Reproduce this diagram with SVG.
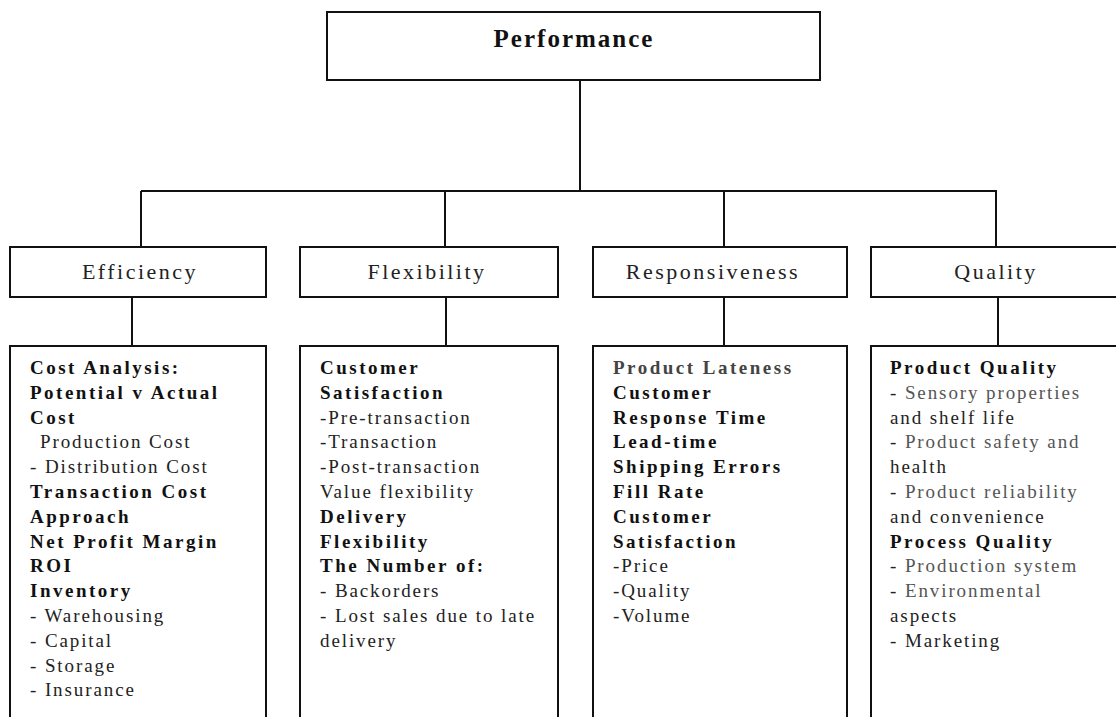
<svg xmlns="http://www.w3.org/2000/svg" width="1116" height="717" viewBox="0 0 1116 717">
<style>
.box{fill:#fff;stroke:#111;stroke-width:2}
.conn{fill:none;stroke:#111;stroke-width:2}
.title{font-family:"Liberation Serif",serif;font-weight:bold;font-size:25px;letter-spacing:2px;text-anchor:middle;fill:#111}
.lbl{font-family:"Liberation Serif",serif;font-size:22px;letter-spacing:2.5px;text-anchor:middle;fill:#222}
.dt{font-family:"Liberation Serif",serif;font-size:19px;letter-spacing:1.9px;fill:#222}
.b{font-weight:bold;fill:#111;letter-spacing:2.5px}
.g{fill:#555}
.gb{fill:#444}
</style>
<rect width="1116" height="717" fill="#fff"/>
<g id="connectors">
<line class="conn" x1="580" y1="80" x2="580" y2="191"/>
<line class="conn" x1="141" y1="191" x2="997" y2="191"/>
<line class="conn" x1="141" y1="191" x2="141" y2="247"/>
<line class="conn" x1="445" y1="191" x2="445" y2="247"/>
<line class="conn" x1="724" y1="191" x2="724" y2="247"/>
<line class="conn" x1="996" y1="191" x2="996" y2="247"/>
<line class="conn" x1="132" y1="297" x2="132" y2="346"/>
<line class="conn" x1="446" y1="297" x2="446" y2="346"/>
<line class="conn" x1="724" y1="297" x2="724" y2="346"/>
<line class="conn" x1="998" y1="297" x2="998" y2="346"/>
</g>
<g id="performance">
<rect class="box" x="327" y="12" width="493" height="68"/>
<text class="title" x="574" y="47">Performance</text>
</g>
<g id="efficiency">
<rect class="box" x="10" y="247" width="256" height="50"/>
<text class="lbl" x="140" y="279">Efficiency</text>
</g>
<g id="flexibility">
<rect class="box" x="300" y="247" width="258" height="50"/>
<text class="lbl" x="427" y="279">Flexibility</text>
</g>
<g id="responsiveness">
<rect class="box" x="593" y="247" width="254" height="50"/>
<text class="lbl" x="713" y="279">Responsiveness</text>
</g>
<g id="quality">
<rect class="box" x="871" y="247" width="260" height="50"/>
<text class="lbl" x="996" y="279">Quality</text>
</g>
<g id="efficiency-details">
<rect class="box" x="10" y="346" width="256" height="380"/>
<text class="dt">
<tspan x="30" y="374" class="b">Cost Analysis:</tspan>
<tspan x="30" y="398.8" class="b">Potential v Actual</tspan>
<tspan x="30" y="423.6" class="b">Cost</tspan>
<tspan x="40" y="448.4">Production Cost</tspan>
<tspan x="30" y="473.2">- Distribution Cost</tspan>
<tspan x="30" y="498" class="b">Transaction Cost</tspan>
<tspan x="30" y="522.8" class="b">Approach</tspan>
<tspan x="30" y="547.6" class="b">Net Profit Margin</tspan>
<tspan x="30" y="572.4" class="b">ROI</tspan>
<tspan x="30" y="597.2" class="b">Inventory</tspan>
<tspan x="30" y="622">- Warehousing</tspan>
<tspan x="30" y="646.8">- Capital</tspan>
<tspan x="30" y="671.6">- Storage</tspan>
<tspan x="30" y="696.4">- Insurance</tspan>
</text>
</g>
<g id="flexibility-details">
<rect class="box" x="300" y="346" width="258" height="380"/>
<text class="dt">
<tspan x="320" y="374" class="b">Customer</tspan>
<tspan x="320" y="398.8" class="b">Satisfaction</tspan>
<tspan x="320" y="423.6">-Pre-transaction</tspan>
<tspan x="320" y="448.4">-Transaction</tspan>
<tspan x="320" y="473.2">-Post-transaction</tspan>
<tspan x="320" y="498">Value flexibility</tspan>
<tspan x="320" y="522.8" class="b">Delivery</tspan>
<tspan x="320" y="547.6" class="b">Flexibility</tspan>
<tspan x="320" y="572.4" class="b">The Number of:</tspan>
<tspan x="320" y="597.2">- Backorders</tspan>
<tspan x="320" y="622">- Lost sales due to late</tspan>
<tspan x="320" y="646.8">delivery</tspan>
</text>
</g>
<g id="responsiveness-details">
<rect class="box" x="593" y="346" width="254" height="380"/>
<text class="dt">
<tspan x="613" y="374" class="b gb">Product Lateness</tspan>
<tspan x="613" y="398.8" class="b">Customer</tspan>
<tspan x="613" y="423.6" class="b">Response Time</tspan>
<tspan x="613" y="448.4" class="b">Lead-time</tspan>
<tspan x="613" y="473.2" class="b">Shipping Errors</tspan>
<tspan x="613" y="498" class="b">Fill Rate</tspan>
<tspan x="613" y="522.8" class="b">Customer</tspan>
<tspan x="613" y="547.6" class="b">Satisfaction</tspan>
<tspan x="613" y="572.4">-Price</tspan>
<tspan x="613" y="597.2">-Quality</tspan>
<tspan x="613" y="622">-Volume</tspan>
</text>
</g>
<g id="quality-details">
<rect class="box" x="871" y="346" width="260" height="380"/>
<text class="dt">
<tspan x="890" y="374" class="b">Product Quality</tspan>
<tspan x="890" y="398.8">- <tspan class="g">Sensory properties</tspan></tspan>
<tspan x="890" y="423.6">and shelf life</tspan>
<tspan x="890" y="448.4">- <tspan class="g">Product safety and</tspan></tspan>
<tspan x="890" y="473.2">health</tspan>
<tspan x="890" y="498">- <tspan class="g">Product reliability</tspan></tspan>
<tspan x="890" y="522.8">and convenience</tspan>
<tspan x="890" y="547.6" class="b">Process Quality</tspan>
<tspan x="890" y="572.4">- <tspan class="g">Production system</tspan></tspan>
<tspan x="890" y="597.2">- <tspan class="g">Environmental</tspan></tspan>
<tspan x="890" y="622">aspects</tspan>
<tspan x="890" y="646.8">- Marketing</tspan>
</text>
</g>
</svg>
